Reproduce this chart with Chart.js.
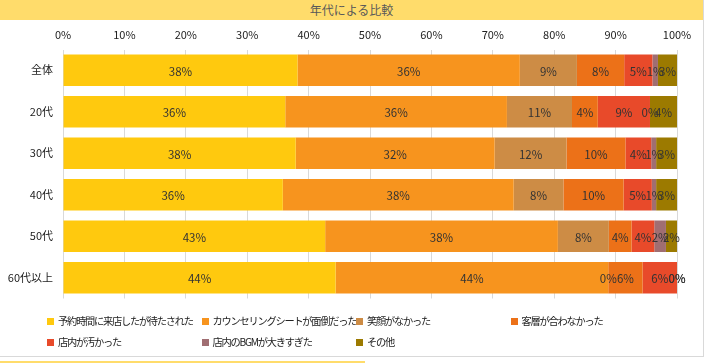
<!DOCTYPE html>
<html>
<head>
<meta charset="utf-8">
<script src="https://cdn.jsdelivr.net/npm/chart.js@4"></script>
<style>
  body { margin: 0; width: 709px; height: 364px; background: #fff; overflow: hidden;
         font-family: "Noto Sans CJK JP", sans-serif; }
  #frame { position: absolute; left: 0; top: 0; width: 703px; height: 356px;
           border-right: 1px solid #d9d9d9; border-bottom: 1px solid #d9d9d9; }
  #title { position: absolute; left: 0; top: 0; width: 703px; height: 20px; background: #ffdc6b;
           text-align: center; font-size: 12px; line-height: 20px; color: #595959; }
  #under { position: absolute; left: 0; top: 361px; width: 365px; height: 2px; background: #ffdc6b; }
  #chart { position: absolute; left: 0; top: 0; }
  #legend { position: absolute; left: 47px; top: 313px; display: grid;
            grid-template-columns: repeat(4, 154.5px); row-gap: 5px; font-size: 10.2px;
            letter-spacing: -1.2px; color: #222; white-space: nowrap; line-height: 16px; }
  #legend span.box { display: inline-block; width: 7px; height: 7px; margin-right: 4px; vertical-align: 0px; }
</style>
</head>
<body>
<div id="frame"></div>
<div id="title">年代による比較</div>
<canvas id="chart" width="709" height="364"></canvas>
<div id="legend"></div>
<div id="under"></div>
<script>
  // Kategorien und Werte (%)
  const categories = ['全体', '20代', '30代', '40代', '50代', '60代以上'];
  const xTicks = ['0%', '10%', '20%', '30%', '40%', '50%', '60%', '70%', '80%', '90%', '100%'];

  const waited = [38.2, 36.2, 37.9, 35.8, 42.7, 44.4];
  const sheet  = [36.2, 36.1, 32.4, 37.6, 37.9, 44.4];
  const smile  = [9.3, 10.6, 11.7, 8.1, 8.3, 0];
  const mood   = [7.7, 4.2, 9.6, 9.8, 3.7, 5.6];
  const dirty  = [4.6, 8.5, 4.2, 4.6, 3.7, 5.6];
  const bgm    = [0.9, 0, 0.8, 0.7, 1.9, 0];
  const other  = [3.1, 4.4, 3.4, 3.4, 1.8, 0];

  const seriesNames = ['予約時間に来店したが待たされた', 'カウンセリングシートが面倒だった', '笑顔がなかった',
    '客層が合わなかった', '店内が汚かった', '店内のBGMが大きすぎた', 'その他'];
  const seriesData = [waited, sheet, smile, mood, dirty, bgm, other];
  const colors = ['#ffc90e', '#f7941e', '#cd8c45', '#ec7118', '#e84a2a', '#a06e72', '#9c7a00'];

  // Datenbeschriftungen in der Mitte jedes Segments
  const labelPlugin = {
    id: 'segLabels',
    afterDatasetsDraw(chart) {
      const ctx = chart.ctx;
      ctx.save();
      ctx.font = '11.5px "Noto Sans CJK JP", sans-serif';
      ctx.fillStyle = '#333';
      ctx.textAlign = 'center';
      ctx.textBaseline = 'middle';
      chart.data.datasets.forEach((ds, i) => {
        chart.getDatasetMeta(i).data.forEach((el, j) => {
          const p = el.getProps(['x', 'base', 'y'], true);
          ctx.fillText(Math.round(ds.data[j]) + '%', (p.x + p.base) / 2, p.y + 1);
        });
      });
      ctx.restore();
    }
  };

  const chart = new Chart(document.getElementById('chart'), {
    type: 'bar',
    data: {
      labels: categories,
      datasets: seriesData.map((d, i) => ({
        label: seriesNames[i],
        data: d,
        backgroundColor: colors[i],
        borderWidth: 0,
        barPercentage: 0.76,
        categoryPercentage: 1
      }))
    },
    options: {
      indexAxis: 'y',
      responsive: false,
      animation: false,
      layout: { padding: { left: 0, right: 32, top: 20, bottom: 65.5 } },
      plugins: { legend: { display: false }, tooltip: { enabled: false } },
      scales: {
        x: {
          position: 'top',
          stacked: true,
          min: 0, max: 100,
          ticks: {
            stepSize: 10,
            padding: 8,
            color: '#222',
            font: { size: 11, family: '"Noto Sans CJK JP", sans-serif' },
            callback: (v, i) => xTicks[i]
          },
          grid: { color: '#d9d9d9', drawTicks: false },
          border: { display: false },
          afterFit(scale) { scale.height = 29.5; }
        },
        y: {
          stacked: true,
          ticks: {
            padding: 10,
            color: '#222',
            font: { size: 11, family: '"Noto Sans CJK JP", sans-serif' }
          },
          grid: { display: false, drawTicks: false, tickLength: 0 },
          border: { display: false },
          afterFit(scale) { scale.width = 63; }
        }
      }
    },
    plugins: [labelPlugin]
  });

  // Legende als Raster (4 Spalten)
  const legend = document.getElementById('legend');
  seriesNames.forEach((name, i) => {
    const item = document.createElement('div');
    item.innerHTML = `<span class="box" style="background:${colors[i]}"></span>${name}`;
    legend.appendChild(item);
  });
</script>
</body>
</html>
